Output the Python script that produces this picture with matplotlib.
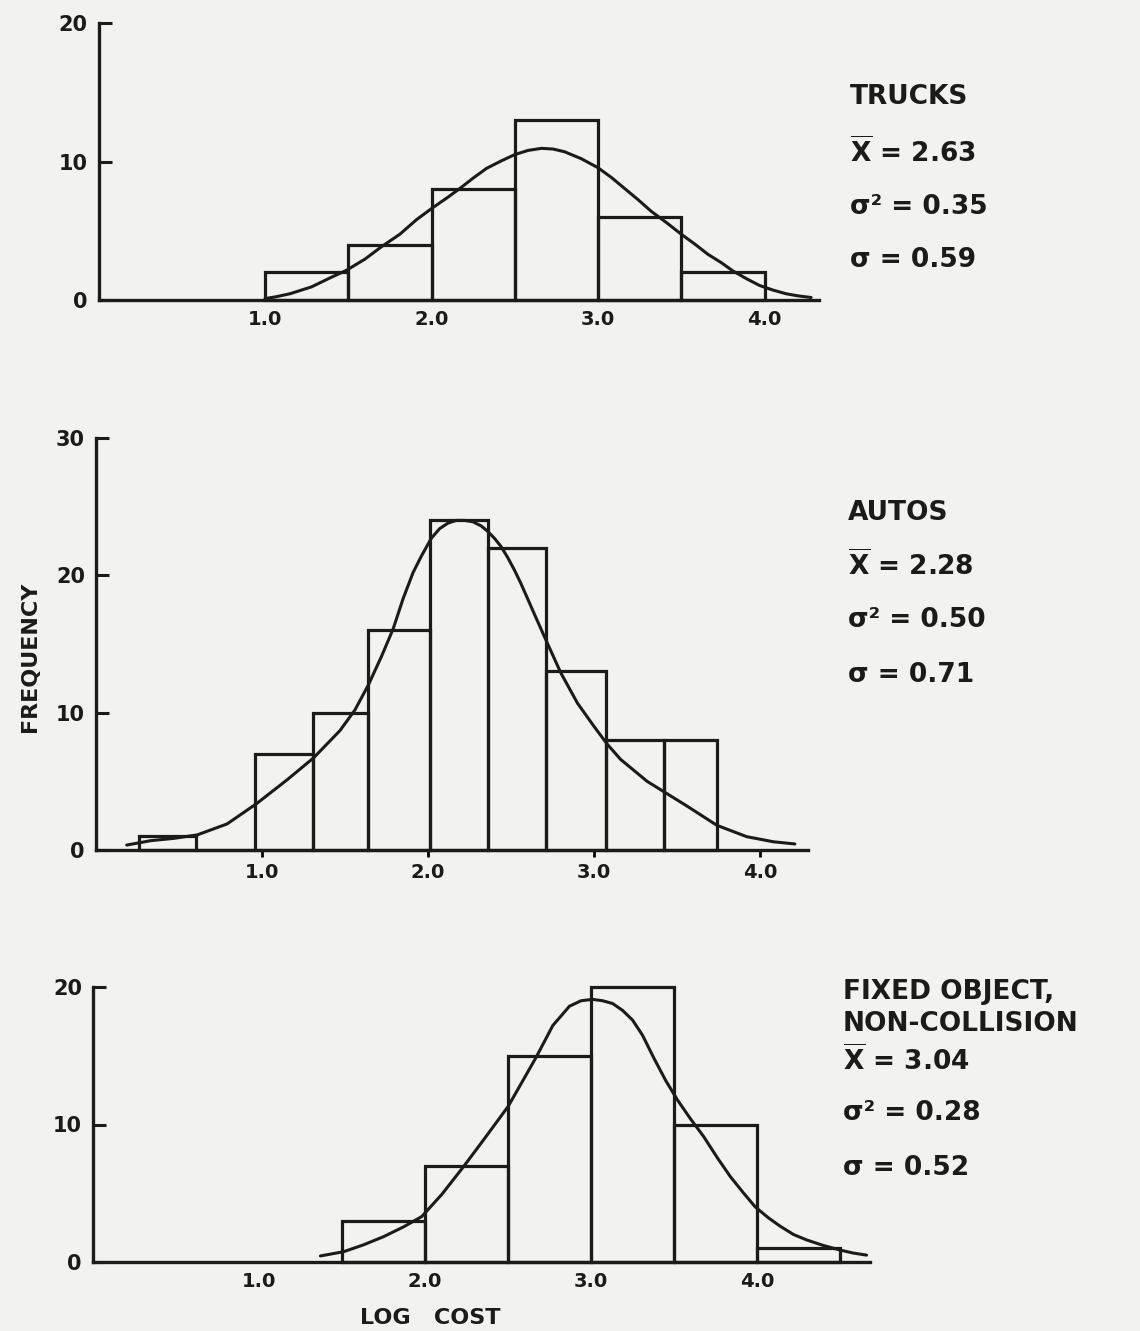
import matplotlib
matplotlib.use("Agg")
import matplotlib.pyplot as plt
import numpy as np

# ---------------- data ----------------
trucks_edges = [1.0, 1.5, 2.0, 2.5, 3.0, 3.5, 4.0]
trucks_counts = [2, 4, 8, 13, 6, 2]
trucks_curve_x = [1.00, 1.06, 1.15, 1.28, 1.40, 1.49, 1.60, 1.70, 1.81, 1.91, 2.00,
                  2.09, 2.17, 2.25, 2.33, 2.42, 2.50, 2.58, 2.66, 2.73, 2.80, 2.90,
                  3.00, 3.08, 3.16, 3.24, 3.32, 3.41, 3.50, 3.58, 3.66, 3.74, 3.81,
                  3.89, 3.97, 4.05, 4.13, 4.20, 4.28]
trucks_curve_y = [0.10, 0.22, 0.45, 0.95, 1.65, 2.15, 2.95, 3.85, 4.75, 5.80, 6.60,
                  7.35, 8.05, 8.80, 9.50, 10.05, 10.5, 10.8, 10.95, 10.9, 10.7, 10.2,
                  9.55, 8.85, 8.05, 7.25, 6.40, 5.60, 4.75, 4.05, 3.30, 2.70, 2.10,
                  1.55, 1.05, 0.72, 0.45, 0.30, 0.18]

autos_edges = [0.26, 0.60, 0.96, 1.31, 1.64, 2.01, 2.36, 2.71, 3.07, 3.42, 3.74]
autos_counts = [1, 0, 7, 10, 16, 24, 22, 13, 8, 8]
autos_curve_x = [0.185, 0.33, 0.47, 0.61, 0.79, 0.97, 1.15, 1.31, 1.47, 1.56, 1.64,
                 1.72, 1.79, 1.85, 1.91, 1.96, 2.02, 2.07, 2.12, 2.17, 2.22, 2.27,
                 2.32, 2.36, 2.40, 2.44, 2.48, 2.52, 2.56, 2.64, 2.71, 2.80, 2.90,
                 3.00, 3.08, 3.16, 3.24, 3.32, 3.40, 3.56, 3.74, 3.92, 4.08, 4.21]
autos_curve_y = [0.36, 0.68, 0.85, 1.10, 1.90, 3.40, 5.10, 6.70, 8.70, 10.2, 12.0,
                 14.1, 16.1, 18.3, 20.2, 21.4, 22.7, 23.4, 23.8, 24.0, 24.0, 23.9,
                 23.6, 23.2, 22.7, 22.1, 21.3, 20.4, 19.4, 17.2, 15.3, 12.9, 10.7,
                 9.0, 7.7, 6.6, 5.8, 5.0, 4.4, 3.2, 1.8, 0.97, 0.60, 0.44]

fixed_edges = [1.5, 2.0, 2.5, 3.0, 3.5, 4.0, 4.5]
fixed_counts = [3, 7, 15, 20, 10, 1]
fixed_curve_x = [1.37, 1.51, 1.63, 1.75, 1.87, 1.98, 2.10, 2.23, 2.36, 2.50, 2.59,
                 2.67, 2.77, 2.87, 2.94, 3.01, 3.07, 3.13, 3.19, 3.25, 3.31, 3.38,
                 3.45, 3.52, 3.60, 3.68, 3.76, 3.84, 3.92, 3.99, 4.07, 4.14, 4.22,
                 4.30, 4.40, 4.50, 4.58, 4.66]
fixed_curve_y = [0.44, 0.75, 1.25, 1.84, 2.55, 3.30, 4.90, 6.90, 9.00, 11.3, 13.2,
                 14.9, 17.2, 18.6, 19.0, 19.1, 19.0, 18.8, 18.3, 17.6, 16.5, 14.8,
                 13.2, 11.8, 10.4, 9.1, 7.6, 6.2, 5.0, 4.0, 3.2, 2.6, 2.0,
                 1.6, 1.2, 0.87, 0.65, 0.50]

titles = [["TRUCKS", r"$\overline{\mathbf{X}}$ = 2.63", "σ² = 0.35", "σ = 0.59"],
          ["AUTOS", r"$\overline{\mathbf{X}}$ = 2.28", "σ² = 0.50", "σ = 0.71"],
          ["FIXED OBJECT,", "NON-COLLISION", r"$\overline{\mathbf{X}}$ = 3.04",
           "σ² = 0.28", "σ = 0.52"]]

x_ticks = [1.0, 2.0, 3.0, 4.0]
x_tick_labels = ["1.0", "2.0", "3.0", "4.0"]

# ---------------- style ----------------
INK = "#1b1b1b"
BG = "#f2f2f0"
plt.rcParams["font.family"] = ["DejaVu Sans"]
plt.rcParams["font.weight"] = "bold"
plt.rcParams["mathtext.fontset"] = "dejavusans"

W, H = 1140, 1331
fig = plt.figure(figsize=(W / 100, H / 100), dpi=100, facecolor=BG)


def make_axes(x0_px, px_per_unit, xmax, y0_px, ytop_px):
    left = x0_px / W
    width = xmax * px_per_unit / W
    bottom = (H - y0_px) / H
    height = (y0_px - ytop_px) / H
    ax = fig.add_axes([left, bottom, width, height])
    ax.set_facecolor("none")
    return ax


def draw(ax, edges, counts, cx, cy, xmax, ymax, yticks):
    edges = np.asarray(edges)
    ax.bar(edges[:-1], counts, width=np.diff(edges), align="edge", fill=False,
           edgecolor=INK, linewidth=2.3, clip_on=False)
    ax.plot(cx, cy, color=INK, linewidth=2.2, solid_joinstyle="round",
            solid_capstyle="round", clip_on=False)
    ax.set_xlim(0, xmax)
    ax.set_ylim(0, ymax)
    for s in ["top", "right"]:
        ax.spines[s].set_visible(False)
    for s in ["left", "bottom"]:
        ax.spines[s].set_linewidth(2.4)
        ax.spines[s].set_color(INK)
    ax.set_yticks(yticks)
    ax.set_yticklabels([str(v) for v in yticks], fontsize=15, fontweight="bold", color=INK)
    ax.tick_params(axis="y", direction="in", length=9, width=2.2, pad=8, colors=INK)
    ax.set_xticks(x_ticks)
    ax.set_xticklabels(x_tick_labels, fontsize=14, fontweight="bold", color=INK)


# Top: trucks
ax1 = make_axes(98.5, 166.5, 4.33, 300, 23)
draw(ax1, trucks_edges, trucks_counts, trucks_curve_x, trucks_curve_y, 4.33, 20, [0, 10, 20])
ax1.tick_params(axis="x", length=0, pad=7)

# Middle: autos
ax2 = make_axes(96, 166, 4.29, 850, 438)
draw(ax2, autos_edges, autos_counts, autos_curve_x, autos_curve_y, 4.29, 30, [0, 10, 20, 30])
ax2.tick_params(axis="x", direction="out", length=5, width=2, pad=4)

# Bottom: fixed object
ax3 = make_axes(93, 166, 4.68, 1262, 987)
draw(ax3, fixed_edges, fixed_counts, fixed_curve_x, fixed_curve_y, 4.68, 20, [0, 10, 20])
ax3.tick_params(axis="x", length=0, pad=7)
ax3.set_xticks([1.0], minor=True)
ax3.tick_params(axis="x", which="minor", direction="in", length=9, width=2.2)

# Right-hand annotation blocks
blocks = [(850, [97, 152, 207, 260]),
          (848, [513, 565, 620, 675]),
          (843, [992, 1024, 1060, 1113, 1168])]
for (xpx, ys), lines in zip(blocks, titles):
    for t, ypx in zip(lines, ys):
        fig.text(xpx / W, 1 - ypx / H, t, fontsize=19, fontweight="bold",
                 color=INK, ha="left", va="center")

fig.text(30 / W, 1 - 657 / H, "FREQUENCY", rotation=90, fontsize=16,
         fontweight="bold", color=INK, ha="center", va="center")
fig.text(430 / W, 1 - 1318 / H, "LOG   COST", fontsize=16, fontweight="bold",
         color=INK, ha="center", va="center")

fig.savefig("out.png", dpi=100, facecolor=BG)
